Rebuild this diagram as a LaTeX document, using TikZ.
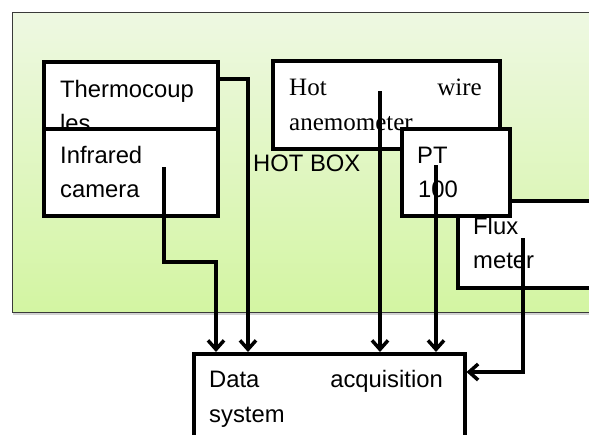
\documentclass[tikz,border=0pt]{standalone}
\usepackage{fontspec}
\setmainfont{Liberation Sans}
\newfontfamily\serifface{Liberation Serif}
\usetikzlibrary{arrows.meta,shadows}
\definecolor{boxtop}{HTML}{EEF8E2}
\definecolor{boxbot}{HTML}{D3F5A2}
\definecolor{boxedge}{HTML}{3A3A3A}
\tikzset{
  devbox/.style={draw=black, line width=3.5pt, fill=white, rectangle, anchor=north west, inner sep=0pt},
  lbl/.style={anchor=base west, inner sep=0pt, font=\fontsize{23.8}{28}\selectfont},
  lblr/.style={anchor=base east, inner sep=0pt, font=\fontsize{23.8}{28}\selectfont},
  slbl/.style={anchor=base west, inner sep=0pt, font=\serifface\fontsize{25}{30}\selectfont},
  slblr/.style={anchor=base east, inner sep=0pt, font=\serifface\fontsize{25}{30}\selectfont},
  conn/.style={draw=black, line width=3.5pt},
  arr/.style={conn, -{Straight Barb[length=9pt, width=16pt, line width=3.5pt]}}
}
\begin{document}
\begin{tikzpicture}[x=1pt, y=-1pt]
\useasboundingbox (0,0) rectangle (589,434);
\clip (0,0) rectangle (589,434);
\fill[white] (0,0) rectangle (589,434);
% hot box
\node[draw=boxedge, line width=0.8pt, rectangle, anchor=north west, minimum width=600pt, minimum height=300pt,
  top color=boxtop, bottom color=boxbot, inner sep=0pt,
  drop shadow={shadow xshift=1pt, shadow yshift=-3pt, opacity=0.35, fill=gray}] (hot) at (12,12) {};
\node[lbl] (hotlbl) at (253,171) {HOT BOX};
% thermocouples
\node[devbox, minimum width=174pt, minimum height=68pt] (tc) at (42,60) {};
\node[lbl] (tc1) at (60,97) {Thermocoup};
\node[lbl] (tc2) at (60,131) {les};
% infrared camera
\node[devbox, minimum width=174pt, minimum height=87pt] (ir) at (42,127) {};
\node[lbl] (ir1) at (60,163) {Infrared};
\node[lbl] (ir2) at (60,197) {camera};
% hot wire anemometer
\node[devbox, minimum width=227pt, minimum height=88pt] (hw) at (271,59) {};
\node[slbl] (hw1) at (289,95) {Hot};
\node[slblr] (hw2) at (482,95) {wire};
\node[slbl] (hw3) at (289,130) {anemometer};
% flux meter
\node[devbox, minimum width=140pt, minimum height=87pt] (fm) at (456,199) {};
\node[lbl] (fm1) at (473,234) {Flux};
\node[lbl] (fm2) at (473,268) {meter};
% PT100
\node[devbox, minimum width=108pt, minimum height=87pt] (pt) at (400,127) {};
\node[lbl] (pt1) at (417,163) {PT};
\node[lbl] (pt2) at (418,197) {100};
% data acquisition
\node[devbox, minimum width=271pt, minimum height=120pt] (daq) at (192,352) {};
\node[lbl] (daq1) at (209,387) {Data};
\node[lblr] (daq2) at (443,387) {acquisition};
\node[lbl] (daq3) at (209,422) {system};
% connector start points
\coordinate (irs) at (164,167);
\coordinate (hws) at (380,91);
\coordinate (pts) at (436,165);
\coordinate (fms) at (523,238);
% connectors
\draw[arr] ([yshift=-19pt]tc.north east) -| ([xshift=56pt]daq.north west);
\draw[arr] (irs) -- (164,262) -| ([xshift=24pt]daq.north west);
\draw[arr] (hws) -- (hws |- daq.north);
\draw[arr] (pts) -- (pts |- daq.north);
\draw[arr] (fms) |- ([yshift=-20pt]daq.north east);
\end{tikzpicture}
\end{document}
